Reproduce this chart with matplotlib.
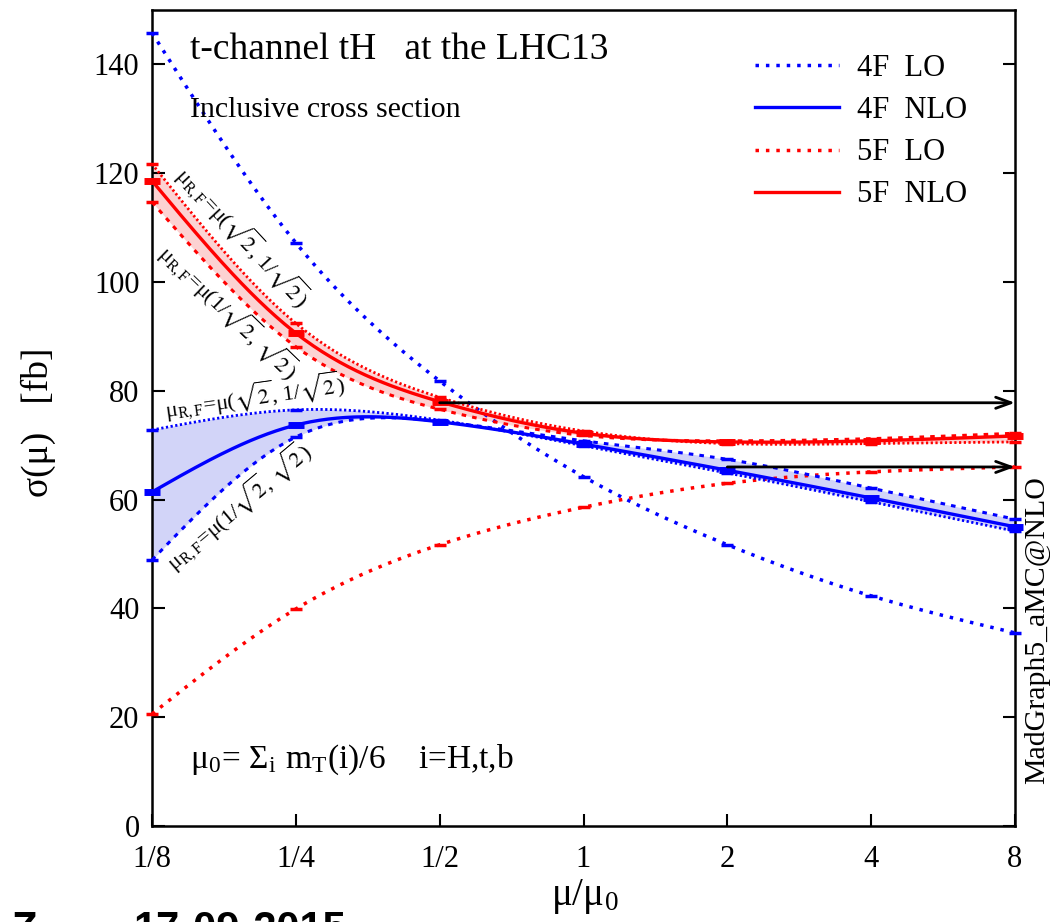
import numpy as np
import matplotlib
matplotlib.use("Agg")
import matplotlib.pyplot as plt
from matplotlib.lines import Line2D

# scale points mu/mu0 and cross sections [fb]
mu = [1/8, 1/4, 1/2, 1, 2, 4, 8]
tick_labels = ["1/8", "1/4", "1/2", "1", "2", "4", "8"]

lo_4f = [145.8, 107.2, 81.8, 64.2, 51.7, 42.3, 35.5]
nlo_4f = [61.4, 73.7, 74.3, 70.2, 65.4, 60.3, 55.0]
nlo_4f_up = [72.8, 76.5, 74.6, 69.9, 64.9, 59.6, 54.2]   # mu(sqrt2, 1/sqrt2)
nlo_4f_dn = [48.9, 71.5, 74.4, 70.8, 67.4, 62.1, 56.4]   # mu(1/sqrt2, sqrt2)

lo_5f = [20.6, 39.9, 51.7, 58.6, 63.0, 65.1, 66.0]
nlo_5f = [118.6, 90.6, 78.0, 72.2, 70.6, 70.8, 71.7]
nlo_5f_up = [121.7, 92.4, 78.8, 72.6, 70.3, 70.3, 70.6]
nlo_5f_dn = [114.7, 88.1, 76.6, 71.8, 70.8, 71.2, 72.2]

# arrows: start scale and level
arrow_from = [1/2, 2]
arrow_y = [77.8, 66.0]

legend_labels = ["4F  LO", "4F  NLO", "5F  LO", "5F  NLO"]

BLUE = "#0000ff"
RED = "#ff0000"
SERIF = ["Liberation Serif", "DejaVu Serif"]

plt.rcParams["font.family"] = SERIF
plt.rcParams["mathtext.fontset"] = "stix"


def smooth(xs, ys, n=300):
    # natural cubic spline in log2(x), like gnuplot's "smooth csplines"
    t = np.log2(xs)
    y = np.asarray(ys, dtype=float)
    h = np.diff(t)
    npts = len(t)
    A = np.zeros((npts, npts))
    r = np.zeros(npts)
    A[0, 0] = A[-1, -1] = 1
    for i in range(1, npts - 1):
        A[i, i - 1] = h[i - 1]
        A[i, i] = 2 * (h[i - 1] + h[i])
        A[i, i + 1] = h[i]
        r[i] = 6 * ((y[i + 1] - y[i]) / h[i] - (y[i] - y[i - 1]) / h[i - 1])
    M = np.linalg.solve(A, r)
    tt = np.linspace(t[0], t[-1], n)
    k = np.clip(np.searchsorted(t, tt) - 1, 0, npts - 2)
    a = t[k + 1] - tt
    b = tt - t[k]
    hk = h[k]
    yy = (M[k] * a**3 / (6 * hk) + M[k + 1] * b**3 / (6 * hk)
          + (y[k] / hk - M[k] * hk / 6) * a + (y[k + 1] / hk - M[k + 1] * hk / 6) * b)
    return 2**tt, yy


fig = plt.figure(figsize=(10.5, 9.22), dpi=100)
ax = fig.add_axes([152/1050, 1 - 826/922, 863/1050, 816/922])

# bands
for up, dn, col in [(nlo_4f_up, nlo_4f_dn, "#d2d4f8"), (nlo_5f_up, nlo_5f_dn, "#fcd2d2")]:
    xx, a = smooth(mu, up)
    _, b = smooth(mu, dn)
    ax.fill_between(xx, np.minimum(a, b), np.maximum(a, b), color=col, lw=0, zorder=1)

fine = (0, (0.8, 0.9))
sparse = (0, (1.5, 2.0))
dotted = (0, (1, 2.0))

for ys, col, ls, lw, z in [
    (lo_4f, BLUE, dotted, 2.5, 3),
    (lo_5f, RED, dotted, 2.5, 3),
    (nlo_4f_up, BLUE, fine, 2.0, 3),
    (nlo_4f_dn, BLUE, sparse, 2.2, 3),
    (nlo_5f_up, RED, fine, 2.0, 3),
    (nlo_5f_dn, RED, sparse, 2.2, 3),
    (nlo_4f, BLUE, "-", 2.4, 4),
    (nlo_5f, RED, "-", 2.4, 4),
]:
    xx, yy = smooth(mu, ys)
    ax.plot(xx, yy, color=col, ls=ls, lw=lw, zorder=z, clip_on=False)
    ms = 11 if ls == "-" else 9
    mew = 5 if ls == "-" else 2.5
    ax.plot(mu, ys, ls="none", marker="_", ms=ms, mew=mew, color=col, zorder=z, clip_on=False)

for x0, y0 in zip(arrow_from, arrow_y):
    ax.annotate("", xy=(8, y0), xytext=(x0, y0),
                arrowprops=dict(arrowstyle="->,head_length=1.1,head_width=0.4",
                                lw=2, color="black", shrinkA=0, shrinkB=0),
                zorder=5, annotation_clip=False)

ax.set_xscale("log", base=2)
ax.set_xlim(1/8, 8)
ax.set_ylim(0, 150)
ax.set_xticks(mu)
ax.set_xticklabels(tick_labels)
ax.xaxis.set_minor_locator(matplotlib.ticker.NullLocator())
ax.set_yticks(np.arange(0, 141, 20))
ax.tick_params(direction="in", length=9, width=1.5, labelsize=22, pad=14)
ax.tick_params(axis="y", right=True, pad=9)
for s in ax.spines.values():
    s.set_linewidth(1.8)

# legend
handles = [
    Line2D([], [], color=BLUE, ls=dotted, lw=2.5),
    Line2D([], [], color=BLUE, ls="-", lw=2.4),
    Line2D([], [], color=RED, ls=dotted, lw=2.5),
    Line2D([], [], color=RED, ls="-", lw=2.4),
]
ax.legend(handles, legend_labels, loc="upper left",
          bbox_to_anchor=((755 - 152) / 863, (826 - 54) / 816),
          frameon=False, fontsize=22, handlelength=2.75, handletextpad=0.6,
          labelspacing=0.43, borderpad=0, borderaxespad=0)

ax.text((190 - 152) / 863, (826 - 50) / 816, "t-channel tH   at the LHC13",
        transform=ax.transAxes, fontsize=27, va="center", ha="left")
ax.text((190 - 152) / 863, (826 - 110) / 816, "Inclusive cross section",
        transform=ax.transAxes, fontsize=21.5, va="center", ha="left")
ax.text((190 - 152) / 863, (826 - 760) / 816,
        r"μ$_\mathregular{0}$= Σ$_\mathregular{i}$ m$_\mathregular{T}$(i)/6    i=H,t,b",
        transform=ax.transAxes, fontsize=24, va="center", ha="left")

lab_a = r"μ$_\mathregular{R,F}$=μ($\sqrt{2}$, 1/$\sqrt{2}$)"
lab_b = r"μ$_\mathregular{R,F}$=μ(1/$\sqrt{2}$, $\sqrt{2}$)"
ax.text(0.1935, 108.3, lab_a, fontsize=16, rotation=-47, rotation_mode="anchor",
        ha="center", va="center", zorder=6)
ax.text(0.181, 94.6, lab_b, fontsize=16, rotation=-44, rotation_mode="anchor",
        ha="center", va="center", zorder=6)
ax.text(0.2053, 79.0, lab_a, fontsize=16, rotation=8, rotation_mode="anchor",
        ha="center", va="center", zorder=6)
ax.text(0.189, 58.8, lab_b, fontsize=16, rotation=40, rotation_mode="anchor",
        ha="center", va="center", zorder=6)

fig.text(38 / 1050, 1 - 422 / 922, "σ(μ)   [fb]", rotation=90,
         fontsize=27, ha="center", va="center")
fig.text(585 / 1050, 1 - 896 / 922, r"μ/μ$_\mathregular{0}$", fontsize=28,
         ha="center", va="center")
fig.text(1037 / 1050, 1 - 630 / 922, "MadGraph5_aMC@NLO", rotation=90,
         fontsize=21.5, ha="center", va="center")

# cut-off footer text
fig.text(12 / 1050, (922 - 941) / 922, "Z", fontsize=30, fontweight="bold",
         family=["Liberation Sans", "DejaVu Sans"], va="baseline", ha="left")
fig.text(133 / 1050, (922 - 941) / 922, "17-09-2015", fontsize=30, fontweight="bold",
         family=["Liberation Sans", "DejaVu Sans"], va="baseline", ha="left")

fig.savefig("out.png", dpi=100)
